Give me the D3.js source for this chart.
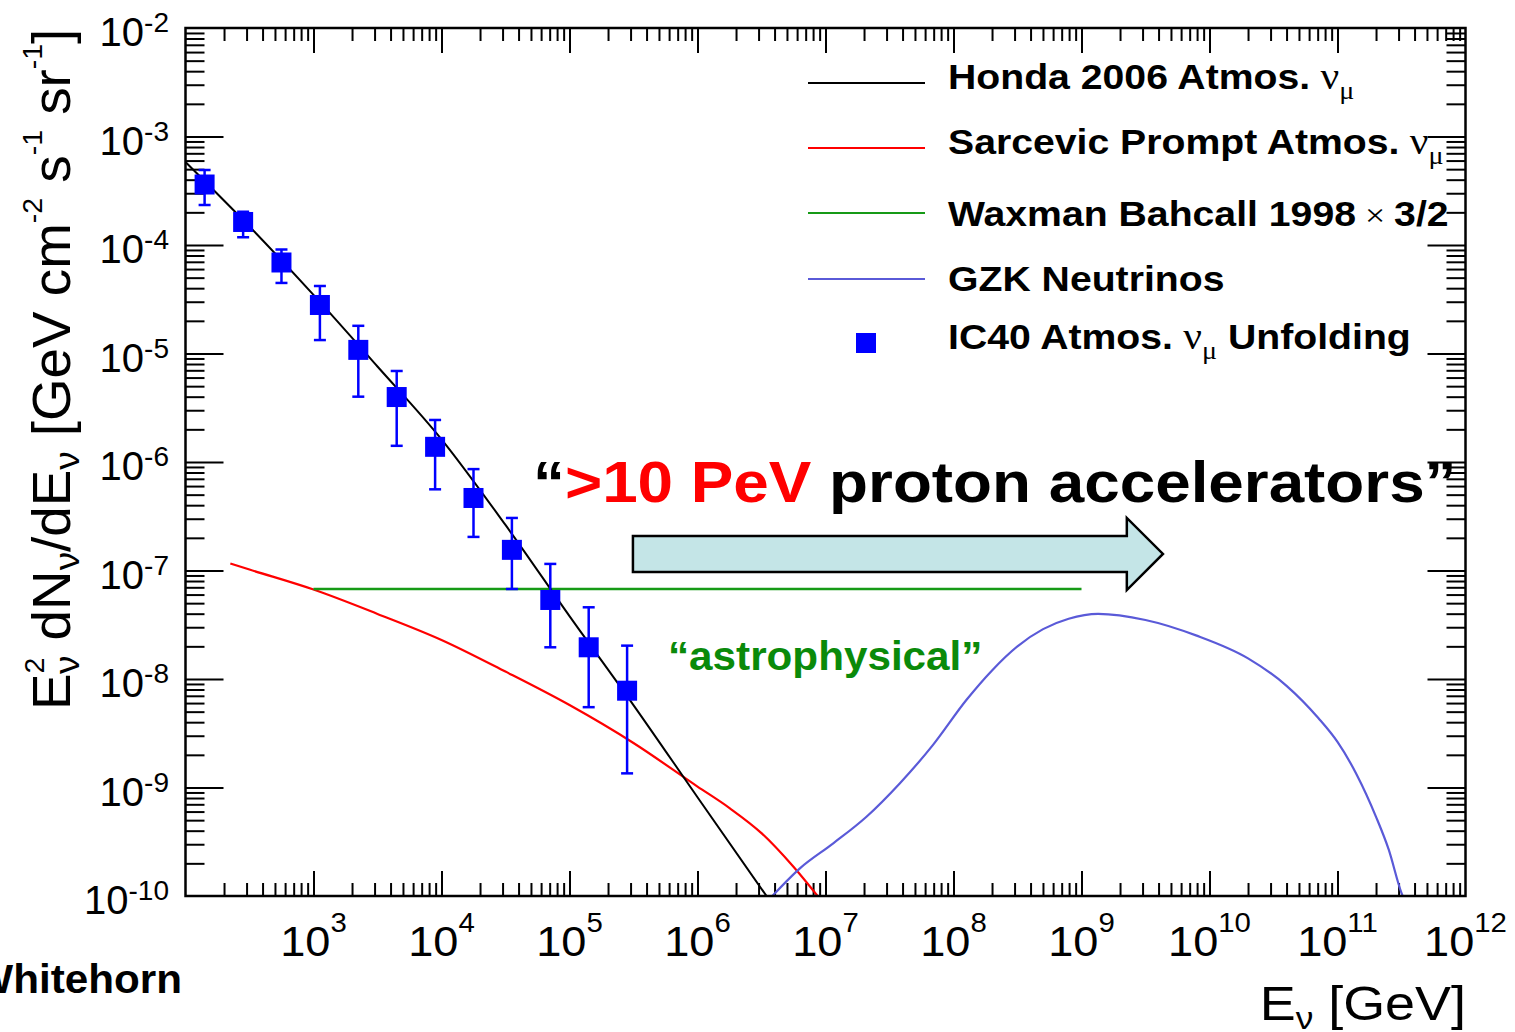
<!DOCTYPE html>
<html><head><meta charset="utf-8">
<script src="https://cdn.jsdelivr.net/npm/d3@7"></script>
<style>body{margin:0;background:#fff;} svg{display:block;}</style>
</head><body>
<svg id="chart" width="1515" height="1032"></svg>
<script>
// ---------------- DATA ----------------
// Honda 2006 atmospheric nu_mu (E in GeV, E^2 dN/dE)
const hondaE    = [1e2, 3.16e2, 1e3, 3.16e3, 1e4, 3.16e4, 1e5, 3.16e5, 1e6, 3.98e6];
const hondaFlux = [5.82e-4, 1.48e-4, 3.47e-5, 7.59e-6, 1.62e-6, 2.63e-7, 3.80e-8, 5.75e-9, 8.13e-10, 7.9e-11];
// Sarcevic prompt atmospheric nu_mu
const promptE    = [2.24e2, 3.16e2, 1e3, 3.16e3, 1e4, 3.16e4, 1e5, 3.16e5, 1e6, 1.78e6, 3.16e6, 5.62e6, 1e7];
const promptFlux = [1.16e-7, 1.02e-7, 6.67e-8, 3.98e-8, 2.29e-8, 1.17e-8, 5.75e-9, 2.57e-9, 1.02e-9, 6.46e-10, 3.80e-10, 1.86e-10, 8.1e-11];
// Waxman Bahcall 1998 x 3/2
const wbE    = [1e3, 1e9];
const wbFlux = [6.75e-8, 6.75e-8];
// GZK neutrinos
const gzkE    = [3.84e6, 6.31e6, 1.15e7, 2.09e7, 3.80e7, 6.92e7, 1.26e8, 2.0e8, 3.16e8, 5.01e8, 7.94e8, 1.35e9, 3.16e9, 7.94e9, 2.0e10, 3.98e10, 7.08e10, 1.0e11, 1.41e11, 2.0e11, 2.51e11, 3.16e11, 3.55e11];
const gzkFlux = [1.0e-10, 1.80e-10, 3.06e-10, 5.38e-10, 1.09e-9, 2.47e-9, 6.40e-9, 1.20e-8, 2.0e-8, 2.88e-8, 3.59e-8, 3.98e-8, 3.50e-8, 2.51e-8, 1.55e-8, 8.7e-9, 4.37e-9, 2.63e-9, 1.32e-9, 5.37e-10, 2.69e-10, 1.07e-10, 7.9e-11];
// IC40 atmospheric nu_mu unfolding
const ic40E    = [141, 282, 562, 1122, 2239, 4467, 8913, 17783, 35481, 70795, 141254, 281838];
const ic40Flux = [3.61e-4, 1.63e-4, 6.9e-5, 2.8e-5, 1.08e-5, 3.97e-6, 1.38e-6, 4.66e-7, 1.55e-7, 5.35e-8, 1.96e-8, 7.8e-9];
const ic40Hi   = [4.9e-4, 2.03e-4, 9.1e-5, 4.19e-5, 1.80e-5, 6.9e-6, 2.44e-6, 8.6e-7, 3.05e-7, 1.15e-7, 4.58e-8, 2.03e-8];
const ic40Lo   = [2.34e-4, 1.18e-4, 4.47e-5, 1.33e-5, 4.0e-6, 1.41e-6, 5.6e-7, 2.04e-7, 6.75e-8, 1.96e-8, 5.5e-9, 1.35e-9];
// arrow annotation (data coordinates)
const arrowE    = [3.13e5, 2.26e9, 4.33e9];        // tail, neck, tip
const arrowFlux = [3.05e-7, 2.08e-7, 1.42e-7, 9.68e-8, 6.6e-8]; // headTop, bodyTop, mid, bodyBot, headBot
// tick labels
const xTickValues = [1e3,1e4,1e5,1e6,1e7,1e8,1e9,1e10,1e11,1e12];
const xTickExp    = ["3","4","5","6","7","8","9","10","11","12"];
const yTickValues = [1e-2,1e-3,1e-4,1e-5,1e-6,1e-7,1e-8,1e-9,1e-10];
const yTickExp    = ["-2","-3","-4","-5","-6","-7","-8","-9","-10"];
const legendLabels = ["Honda 2006 Atmos.", "Sarcevic Prompt Atmos.", "Waxman Bahcall 1998", "GZK Neutrinos", "IC40 Atmos."];

// ---------------- LAYOUT ----------------
const SANS = "'Liberation Sans', Arial, Helvetica, sans-serif";
const SERIF = "'Liberation Serif', 'Times New Roman', serif";
const svg = d3.select("#chart");
const L = 185.5, R = 1465.5, T = 28, B = 896;
const x = d3.scaleLog().domain([1e2, 1e12]).range([L, R]);
const y = d3.scaleLog().domain([1e-10, 1e-2]).range([B, T]);

svg.append("rect").attr("width",1515).attr("height",1032).attr("fill","#fff");
svg.append("defs").append("clipPath").attr("id","clip")
  .append("rect").attr("x",L).attr("y",T).attr("width",R-L).attr("height",B-T);

// ---------------- TICKS ----------------
const xMinor = [], xMajor = [];
for (let k = 2; k <= 11; k++) { for (let m = 2; m <= 9; m++) xMinor.push(m*Math.pow(10,k)); if (k>2) xMajor.push(Math.pow(10,k)); }
const yMinor = [], yMajor = [];
for (let k = -10; k <= -3; k++) { for (let m = 2; m <= 9; m++) yMinor.push(m*Math.pow(10,k)); if (k>-10) yMajor.push(Math.pow(10,k)); }

function axisG(axis, tx, ty) {
  const g = svg.append("g").attr("transform",`translate(${tx},${ty})`).call(axis);
  g.select(".domain").remove();
  g.selectAll("line").attr("stroke","#000").attr("stroke-width",2);
  g.selectAll("text").remove();
  return g;
}
axisG(d3.axisBottom(x).tickValues(xMinor).tickSize(-13), 0, B);
axisG(d3.axisBottom(x).tickValues(xMajor).tickSize(-25), 0, B);
axisG(d3.axisTop(x).tickValues(xMinor).tickSize(-13), 0, T);
axisG(d3.axisTop(x).tickValues(xMajor).tickSize(-25), 0, T);
axisG(d3.axisLeft(y).tickValues(yMinor).tickSize(-19), L, 0);
axisG(d3.axisLeft(y).tickValues(yMajor).tickSize(-38), L, 0);
axisG(d3.axisRight(y).tickValues(yMinor).tickSize(-19), R, 0);
axisG(d3.axisRight(y).tickValues(yMajor).tickSize(-38), R, 0);

// tick labels
xTickValues.forEach((v,i) => {
  const t = svg.append("text").attr("transform",`translate(${x(v)},956) scale(1.05,1)`)
    .attr("text-anchor","middle").attr("font-family",SANS).attr("font-size",43).attr("fill","#000");
  t.append("tspan").text("10");
  t.append("tspan").attr("font-size",28).attr("dy",-24).text(xTickExp[i]);
});
yTickValues.forEach((v,i) => {
  const t = svg.append("text").attr("transform",`translate(169,${y(v)+18})`)
    .attr("text-anchor","end").attr("font-family",SANS).attr("font-size",40).attr("fill","#000");
  t.append("tspan").text("10");
  t.append("tspan").attr("font-size",28).attr("dy",-14).text(yTickExp[i]);
});

// ---------------- CURVES ----------------
const plot = svg.append("g").attr("clip-path","url(#clip)");
const line = d3.line().x(d => x(d[0])).y(d => y(d[1])).curve(d3.curveMonotoneX);
function curve(E, F, color, w) {
  plot.append("path").datum(E.map((e,i)=>[e,F[i]])).attr("d",line)
    .attr("fill","none").attr("stroke",color).attr("stroke-width",w);
}
curve(promptE, promptFlux, "#ff0000", 2.2);
curve(wbE, wbFlux, "#169a16", 2.5);
curve(gzkE, gzkFlux, "#5a5ad8", 2.2);
curve(hondaE, hondaFlux, "#000000", 2);

// ---------------- ARROW ----------------
const ax = arrowE.map(x), ay = arrowFlux.map(y);
const arrowPts = [[ax[0],ay[1]],[ax[1],ay[1]],[ax[1],ay[0]],[ax[2],ay[2]],[ax[1],ay[4]],[ax[1],ay[3]],[ax[0],ay[3]]];
svg.append("polygon").attr("points", arrowPts.map(p=>p.join(",")).join(" "))
  .attr("fill","#c4e5e7").attr("stroke","#000").attr("stroke-width",2.5).attr("stroke-linejoin","miter");

// ---------------- DATA POINTS ----------------
const pts = plot.append("g");
ic40E.forEach((e,i) => {
  const cx = x(e);
  pts.append("line").attr("x1",cx).attr("x2",cx).attr("y1",y(ic40Hi[i])).attr("y2",y(ic40Lo[i]))
    .attr("stroke","#0000ff").attr("stroke-width",2.5);
  [ic40Hi[i], ic40Lo[i]].forEach(v => pts.append("line").attr("x1",cx-6).attr("x2",cx+6)
    .attr("y1",y(v)).attr("y2",y(v)).attr("stroke","#0000ff").attr("stroke-width",2.5));
  pts.append("rect").attr("x",cx-10).attr("y",y(ic40Flux[i])-10).attr("width",20).attr("height",20).attr("fill","#0000ff");
});

// frame
svg.append("rect").attr("x",L).attr("y",T).attr("width",R-L).attr("height",B-T)
  .attr("fill","none").attr("stroke","#000").attr("stroke-width",2.5);

// ---------------- LEGEND ----------------
const legColors = ["#000000","#ff0000","#169a16","#5a5ad8"];
const legLineY = [83, 148, 213, 279];
const legTextY = [89, 154, 226, 291, 349];
legColors.forEach((c,i) => svg.append("line").attr("x1",808).attr("x2",925)
  .attr("y1",legLineY[i]).attr("y2",legLineY[i]).attr("stroke",c).attr("stroke-width",2));
svg.append("rect").attr("x",856).attr("y",333).attr("width",20).attr("height",20).attr("fill","#0000ff");

function legText(i) {
  return svg.append("text").attr("transform",`translate(948,${legTextY[i]}) scale(1.12,1)`)
    .attr("font-family",SANS).attr("font-weight","bold").attr("font-size",35).attr("fill","#000");
}
function numu(t, after) {
  t.append("tspan").attr("font-family",SERIF).attr("font-weight","normal").attr("font-size",37).text(" ν");
  t.append("tspan").attr("font-family",SERIF).attr("font-weight","normal").attr("font-size",25).attr("dy",10).text("μ");
  if (after) t.append("tspan").attr("dy",-10).text(after);
}
{ const t = legText(0); t.append("tspan").text(legendLabels[0]); numu(t); }
{ const t = legText(1); t.append("tspan").text(legendLabels[1]); numu(t); }
{ const t = legText(2); t.append("tspan").text(legendLabels[2]);
  t.append("tspan").attr("font-family",SERIF).attr("font-weight","normal").attr("font-size",32).text(" × ");
  t.append("tspan").text("3/2"); }
{ const t = legText(3); t.append("tspan").text(legendLabels[3]); }
{ const t = legText(4); t.append("tspan").text(legendLabels[4]); numu(t, " Unfolding"); }

// ---------------- ANNOTATIONS ----------------
{ const t = svg.append("text").attr("transform","translate(533,502) scale(1.1,1)")
    .attr("font-family",SANS).attr("font-weight","bold").attr("font-size",58).attr("fill","#000");
  t.append("tspan").text("“");
  t.append("tspan").attr("fill","#ff0000").text(">10 PeV");
  t.append("tspan").text(" proton accelerators”"); }
svg.append("text").attr("transform","translate(668,670) scale(1.03,1)")
  .attr("font-family",SANS).attr("font-weight","bold").attr("font-size",41).attr("fill","#0a8a0a")
  .text("“astrophysical”");
svg.append("text").attr("transform","translate(182,993) scale(1.03,1)").attr("text-anchor","end")
  .attr("font-family",SANS).attr("font-weight","bold").attr("font-size",41).attr("fill","#000")
  .text("Whitehorn");

// x title
{ const t = svg.append("text").attr("transform","translate(1466,1020) scale(1.1,1)").attr("text-anchor","end")
    .attr("font-family",SANS).attr("font-size",49).attr("fill","#000");
  t.append("tspan").text("E");
  t.append("tspan").attr("font-size",32).attr("dy",9).text("ν");
  t.append("tspan").attr("dy",-9).text(" [GeV]"); }

// y title (rotated)
{ const t = svg.append("text").attr("transform","translate(70,710) rotate(-90) scale(1.015,1)")
    .attr("font-family",SANS).attr("font-size",54).attr("fill","#000");
  t.append("tspan").text("E");
  t.append("tspan").attr("font-size",28).attr("dy",-26).text("2");
  t.append("tspan").attr("font-size",36).attr("dx",-16).attr("dy",35).text("ν");
  t.append("tspan").attr("dy",-9).text(" dN");
  t.append("tspan").attr("font-size",36).attr("dy",9).text("ν");
  t.append("tspan").attr("dy",-9).text("/dE");
  t.append("tspan").attr("font-size",36).attr("dy",9).text("ν");
  t.append("tspan").attr("dy",-9).text(" [GeV cm");
  t.append("tspan").attr("font-size",28).attr("dy",-28).text("-2");
  t.append("tspan").attr("dy",28).text(" s");
  t.append("tspan").attr("font-size",28).attr("dy",-28).text("-1");
  t.append("tspan").attr("dy",28).text(" sr");
  t.append("tspan").attr("font-size",28).attr("dy",-28).text("-1");
  t.append("tspan").attr("dy",28).text("]"); }
</script>
</body></html>
